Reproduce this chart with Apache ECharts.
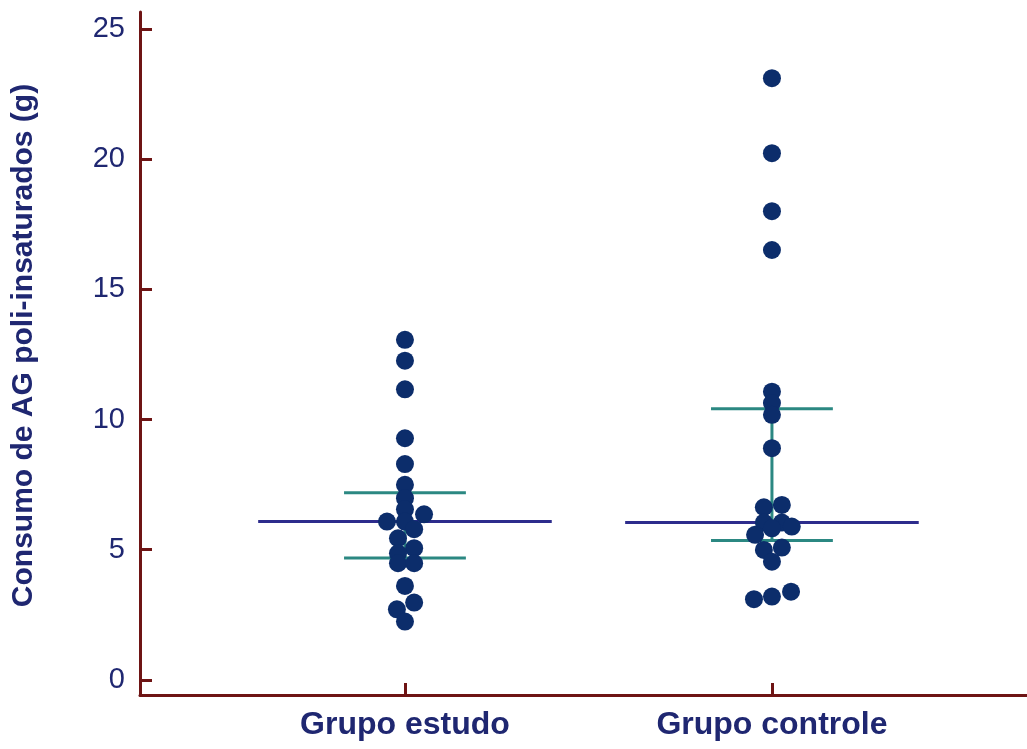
<!DOCTYPE html>
<html>
<head>
<meta charset="utf-8">
<script src="https://cdn.jsdelivr.net/npm/echarts@6/dist/echarts.min.js"></script>
<style>
  html, body { margin: 0; padding: 0; background: #fff; }
  #chart { width: 1027px; height: 749px; }
</style>
</head>
<body>
<div id="chart"></div>
<script>
const categories = ['Grupo estudo', 'Grupo controle'];
const yTicks = [0, 5, 10, 15, 20, 25];

// values, with the horizontal spread of each dot (in group units)
const estudoValues = [13.06, 12.26, 11.16, 9.28, 8.29, 7.49, 6.98, 6.55, 6.36, 6.08, 6.08, 5.79, 5.44, 5.06, 4.86, 4.48, 4.48, 3.61, 2.97, 2.71, 2.24];
const estudoJitter = [0, 0, 0, 0, 0, 0, 0, 0, 0.052, -0.049, 0, 0.025, -0.019, 0.025, -0.019, -0.019, 0.025, 0, 0.025, -0.022, 0];
const controleValues = [23.11, 20.23, 18.0, 16.51, 11.07, 10.63, 10.18, 8.9, 6.72, 6.63, 6.04, 6.04, 5.89, 5.82, 5.57, 5.08, 4.99, 4.54, 3.39, 3.2, 3.1];
const controleJitter = [0, 0, 0, 0, 0, 0, 0, 0, 0.027, -0.022, -0.022, 0.027, 0.054, 0, -0.046, 0.027, -0.022, 0, 0.052, 0, -0.049];

const medians = [6.08, 6.04];
const lowerQ = [4.68, 5.35];
const upperQ = [7.19, 10.41];

const DOT = '#0c2d6b';
const MEDIAN = '#2d2c8c';
const TEAL = '#2b8882';
const AXIS = '#6e1414';
const TEXT = '#1f2771';
const FONT = 'Liberation Sans, Arial, sans-serif';

const series = [];
categories.forEach((name, i) => {
  const g = i + 1;
  series.push({
    type: 'line', symbol: 'none', silent: true,
    lineStyle: { color: TEAL, width: 3 },
    data: [[g, lowerQ[i]], [g, upperQ[i]]],
  });
  [lowerQ[i], upperQ[i]].forEach((q) => {
    series.push({
      type: 'line', symbol: 'none', silent: true,
      lineStyle: { color: TEAL, width: 3 },
      data: [[g - 0.166, q], [g + 0.166, q]],
    });
  });
  series.push({
    type: 'line', symbol: 'none', silent: true,
    lineStyle: { color: MEDIAN, width: 3 },
    data: [[g - 0.4, medians[i]], [g + 0.4, medians[i]]],
  });
});

const groups = [[estudoValues, estudoJitter], [controleValues, controleJitter]];
groups.forEach(([vals, jit], i) => {
  series.push({
    type: 'scatter',
    symbolSize: 18,
    itemStyle: { color: DOT, opacity: 1 },
    z: 5,
    data: vals.map((v, k) => [i + 1 + jit[k], v]),
  });
});

const chart = echarts.init(document.getElementById('chart'));
chart.setOption({
  animation: false,
  grid: { left: 140, right: 0, top: 12, bottom: 54, outerBoundsMode: 'none', containLabel: false },
  xAxis: {
    type: 'value',
    min: 0.278,
    max: 2.695,
    splitLine: { show: false },
    axisLine: { show: true, onZero: false, lineStyle: { color: AXIS, width: 3 } },
    axisTick: { show: true, inside: true, length: 12, lineStyle: { color: AXIS, width: 3 }, customValues: [1, 2] },
    axisLabel: {
      customValues: [1, 2],
      formatter: (v) => categories[Math.round(v) - 1],
      color: TEXT, fontSize: 32, fontWeight: 'bold',
      fontFamily: FONT,
      margin: 14,
    },
  },
  yAxis: {
    type: 'value',
    min: -0.58,
    max: 25.65,
    splitLine: { show: false },
    name: 'Consumo de AG poli-insaturados (g)',
    nameLocation: 'middle',
    nameGap: 101,
    nameTextStyle: { color: TEXT, fontSize: 30, fontWeight: 'bold', fontFamily: FONT, padding: [0, 0, 0, 16] },
    axisLine: { show: true, onZero: false, lineStyle: { color: AXIS, width: 3 } },
    axisTick: { show: true, inside: true, length: 12, lineStyle: { color: AXIS, width: 3 }, customValues: yTicks },
    axisLabel: {
      customValues: yTicks,
      color: TEXT, fontSize: 29,
      fontFamily: FONT,
      margin: 15,
    },
  },
  series,
});
</script>
</body>
</html>
